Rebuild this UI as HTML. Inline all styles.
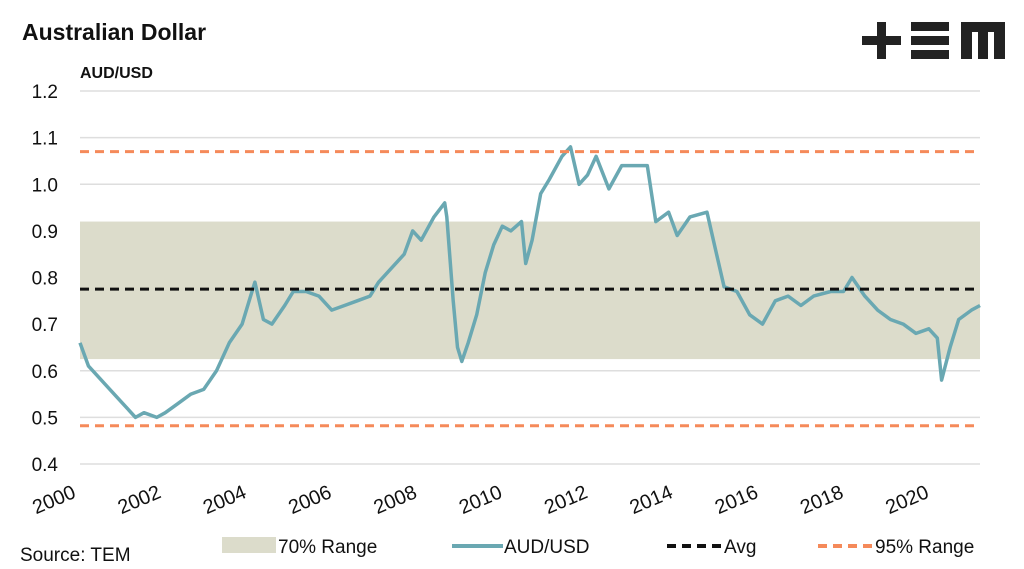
<!DOCTYPE html>
<html><head><meta charset="utf-8"><style>
body{margin:0;background:#fff;font-family:"Liberation Sans",sans-serif;}
#wrap{position:relative;width:1024px;height:569px;overflow:hidden;}
</style></head><body>
<div id="wrap">
<svg id="chart" width="1024" height="569">
<text x="22" y="40" font-size="23" font-weight="bold" fill="#111">Australian Dollar</text>
<g fill="#222">
<rect x="862" y="36" width="39" height="9"/><rect x="877" y="22" width="9" height="37"/>
<rect x="911" y="22" width="38" height="9"/><rect x="911" y="36" width="38" height="9"/><rect x="911" y="50" width="38" height="9"/>
<path d="M961 22h44v37h-11v-27h-6v27h-10v-27h-6v27h-11z"/>
</g>
<text x="80" y="78" font-size="16" font-weight="bold" fill="#111">AUD/USD</text>
<g id="grid"></g><g id="marks"></g><g id="axes"></g>
<g font-size="19" fill="#111">
<text x="20" y="561">Source: TEM</text>
<g><rect x="222" y="537" width="54" height="16" fill="#dcdccb"/><text x="278" y="553">70% Range</text></g>
<g><line x1="452" y1="546" x2="503" y2="546" stroke="#6aa8b2" stroke-width="4"/><text x="504" y="553">AUD/USD</text></g>
<g><line x1="667" y1="546" x2="722" y2="546" stroke="#111" stroke-width="4" stroke-dasharray="9,6"/><text x="724" y="553">Avg</text></g>
<g><line x1="818" y1="546" x2="873" y2="546" stroke="#f58a5a" stroke-width="4" stroke-dasharray="9,6"/><text x="875" y="553">95% Range</text></g>
</g>
</svg>
</div>
<script>
const yTicks=[0.4,0.5,0.6,0.7,0.8,0.9,1.0,1.1,1.2];
const xTicks=[2000,2002,2004,2006,2008,2010,2012,2014,2016,2018,2020];
const dates=[2000.0,2000.2,2000.5,2000.8,2001.0,2001.3,2001.5,2001.8,2002.0,2002.3,2002.6,2002.9,2003.2,2003.5,2003.8,2004.0,2004.1,2004.3,2004.5,2004.8,2005.0,2005.3,2005.6,2005.9,2006.2,2006.5,2006.8,2007.0,2007.3,2007.6,2007.8,2008.0,2008.3,2008.55,2008.6,2008.75,2008.85,2008.95,2009.1,2009.3,2009.5,2009.7,2009.9,2010.1,2010.35,2010.45,2010.6,2010.8,2011.0,2011.3,2011.5,2011.7,2011.9,2012.1,2012.4,2012.7,2013.0,2013.3,2013.5,2013.8,2014.0,2014.3,2014.7,2014.9,2015.1,2015.4,2015.7,2016.0,2016.3,2016.6,2016.9,2017.2,2017.6,2017.9,2018.1,2018.4,2018.7,2019.0,2019.3,2019.6,2019.9,2020.1,2020.2,2020.4,2020.6,2020.9,2021.1];
const audusd=[0.66,0.61,0.58,0.55,0.53,0.50,0.51,0.50,0.51,0.53,0.55,0.56,0.60,0.66,0.70,0.76,0.79,0.71,0.70,0.74,0.77,0.77,0.76,0.73,0.74,0.75,0.76,0.79,0.82,0.85,0.90,0.88,0.93,0.96,0.93,0.75,0.65,0.62,0.66,0.72,0.81,0.87,0.91,0.90,0.92,0.83,0.88,0.98,1.01,1.06,1.08,1.00,1.02,1.06,0.99,1.04,1.04,1.04,0.92,0.94,0.89,0.93,0.94,0.86,0.78,0.77,0.72,0.70,0.75,0.76,0.74,0.76,0.77,0.77,0.80,0.76,0.73,0.71,0.70,0.68,0.69,0.67,0.58,0.65,0.71,0.73,0.74];
const avgLevel=[0.775];
const range70=[0.625,0.92];
const range95=[0.482,1.07];
const NS='http://www.w3.org/2000/svg';
const X0=80,X1=980,Y0=464,Y1=91;
const xs=y=>X0+(y-2000)*(X1-X0)/21.1;
const ys=v=>Y0-(v-0.4)*(Y0-Y1)/0.8;
function mk(tag,attrs,parent){const e=document.createElementNS(NS,tag);for(const k in attrs)e.setAttribute(k,attrs[k]);parent.appendChild(e);return e;}
const grid=document.getElementById('grid'),marks=document.getElementById('marks'),axes=document.getElementById('axes');
yTicks.forEach(t=>{
 const l=mk('line',{x1:X0,x2:X1,y1:ys(t),y2:ys(t),stroke:'#dedede','stroke-width':1.5},grid);
 
 
 const tx=mk('text',{x:58,y:ys(t)+7,'text-anchor':'end','font-size':19,fill:'#111'},axes);
 tx.textContent=t.toFixed(1);
 
 
});
xTicks.forEach(t=>{
 const x=xs(t)-3, y=497;
 const tx=mk('text',{x:x,y:y,'text-anchor':'end','font-size':20,fill:'#111',transform:`rotate(-23 ${x} ${y})`},axes);
 tx.textContent=t;
 
 
});
const band=mk('rect',{x:X0,width:X1-X0,y:ys(range70[1]),height:ys(range70[0])-ys(range70[1]),fill:'#dcdccb'},marks);


let d='';dates.forEach((t,i)=>{d+=(i?'L':'M')+xs(t).toFixed(1)+' '+ys(audusd[i]).toFixed(1);});
const line=mk('path',{d:d,fill:'none',stroke:'#6aa8b2','stroke-width':3.5,'stroke-linejoin':'round'},marks);


const av=mk('line',{x1:X0,x2:X1,y1:ys(avgLevel[0]),y2:ys(avgLevel[0]),stroke:'#111','stroke-width':3,'stroke-dasharray':'9,6'},marks);


range95.forEach(v=>{
 const l=mk('line',{x1:X0,x2:X1,y1:ys(v),y2:ys(v),stroke:'#f58a5a','stroke-width':3,'stroke-dasharray':'9,6'},marks);
 
 
});
</script>
</body></html>
